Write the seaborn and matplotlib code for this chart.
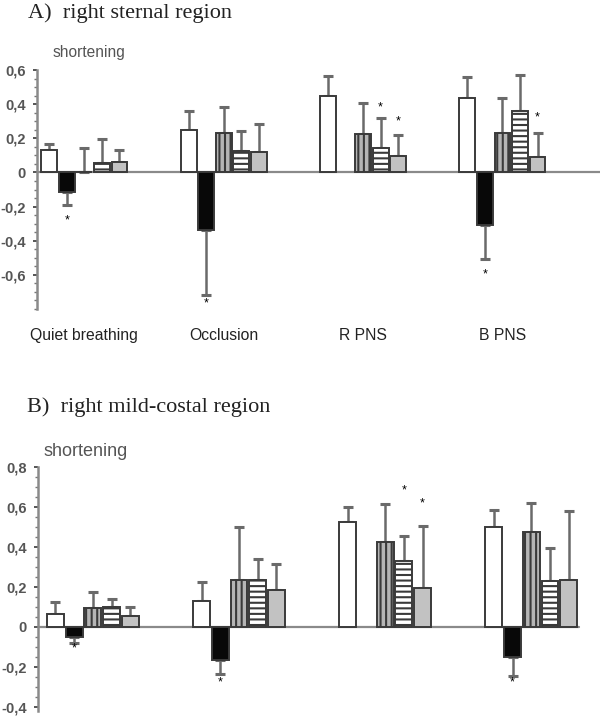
import numpy as np
import pandas as pd
import matplotlib
matplotlib.use("Agg")
import matplotlib.pyplot as plt
import seaborn as sns
from matplotlib.container import BarContainer
from matplotlib.ticker import FixedLocator, MultipleLocator, FuncFormatter

# ---------------- data ----------------
conditions = ["Quiet breathing", "Occlusion", "R PNS", "B PNS"]
series_names = ["white", "black", "vertical", "horizontal", "grey"]

# Panel A: right sternal region (mean shortening, SD)
a_white = [0.13, 0.248, 0.447, 0.434]
a_white_sd = [0.037, 0.11, 0.117, 0.126]
a_black = [-0.117, -0.34, np.nan, -0.307]
a_black_sd = [0.073, 0.38, np.nan, 0.203]
a_vertical = [0.005, 0.232, 0.224, 0.23]
a_vertical_sd = [0.14, 0.152, 0.184, 0.204]
a_horizontal = [0.055, 0.125, 0.146, 0.36]
a_horizontal_sd = [0.14, 0.117, 0.171, 0.21]
a_grey = [0.06, 0.121, 0.097, 0.092]
a_grey_sd = [0.07, 0.164, 0.121, 0.138]

# Panel B: right mild-costal region
b_white = [0.063, 0.13, 0.522, 0.497]
b_white_sd = [0.062, 0.092, 0.076, 0.086]
b_black = [-0.05, -0.167, np.nan, -0.15]
b_black_sd = [0.033, 0.07, np.nan, 0.097]
b_vertical = [0.092, 0.233, 0.425, 0.475]
b_vertical_sd = [0.08, 0.264, 0.187, 0.142]
b_horizontal = [0.10, 0.233, 0.33, 0.23]
b_horizontal_sd = [0.04, 0.105, 0.123, 0.162]
b_grey = [0.053, 0.183, 0.192, 0.233]
b_grey_sd = [0.047, 0.13, 0.313, 0.345]

# significance stars: (condition, series, y)
a_stars = [("Quiet breathing", "black", -0.28), ("Occlusion", "black", -0.77),
           ("R PNS", "horizontal", 0.38), ("R PNS", "grey", 0.30),
           ("B PNS", "black", -0.60), ("B PNS", "grey", 0.32)]
b_stars = [("Quiet breathing", "black", -0.11), ("Occlusion", "black", -0.28),
           ("R PNS", "horizontal", 0.683), ("R PNS", "grey", 0.617),
           ("B PNS", "black", -0.28)]

a_yticks = [-0.6, -0.4, -0.2, 0, 0.2, 0.4, 0.6]
b_yticks = [-0.4, -0.2, 0, 0.2, 0.4, 0.6, 0.8]


def build(vals, sds):
    rows = []
    for s, v, e in zip(series_names, vals, sds):
        for c, vv, ee in zip(conditions, v, e):
            rows.append({"condition": c, "series": s, "value": vv, "sd": ee})
    return pd.DataFrame(rows)


dfA = build([a_white, a_black, a_vertical, a_horizontal, a_grey],
            [a_white_sd, a_black_sd, a_vertical_sd, a_horizontal_sd, a_grey_sd])
dfB = build([b_white, b_black, b_vertical, b_horizontal, b_grey],
            [b_white_sd, b_black_sd, b_vertical_sd, b_horizontal_sd, b_grey_sd])

# ---------------- style ----------------
sns.set_style("white")
plt.rcParams["font.family"] = ["Liberation Sans", "DejaVu Sans"]
plt.rcParams["hatch.linewidth"] = 1.5

EDGE = "#3a3a3a"
face = {"white": "white", "black": "#080808", "vertical": "#b5b5b5",
        "horizontal": "white", "grey": "#c2c2c2"}
hatch = {"white": None, "black": None, "vertical": "|||",
         "horizontal": "---", "grey": None}
AXC = "#8a8a8a"

fig = plt.figure(figsize=(6.0, 7.28), dpi=100)
axA = fig.add_axes([37 / 600, 1 - 309 / 728, 563 / 600, 239 / 728])
axB = fig.add_axes([38 / 600, 1 - 710.7 / 728, 562 / 600, 244 / 728])


def draw(ax, df, ylim, xlim, yticks, stars, xlabels, hline_xmax, width):
    sns.barplot(data=df, x="condition", y="value", hue="series",
                order=conditions, hue_order=series_names,
                palette=face, width=width, gap=0.1, errorbar=None,
                legend=False, edgecolor=EDGE, linewidth=1.4, ax=ax, zorder=3)
    lookup = {(r.condition, r.series): (r.value, r.sd) for r in df.itertuples()}
    bar_conts = [c for c in ax.containers if isinstance(c, BarContainer)]
    centers = {}
    for hi, cont in enumerate(bar_conts):
        s = series_names[hi]
        for bar in cont:
            h = bar.get_height()
            if not np.isfinite(h):
                continue
            xc = bar.get_x() + bar.get_width() / 2
            c = conditions[int(round(xc))]
            bar.set_facecolor(face[s])
            bar.set_edgecolor(EDGE)
            if hatch[s]:
                bar.set_hatch(hatch[s])
            centers[(c, s)] = xc
            v, e = lookup[(c, s)]
            yerr = [[0], [e]] if v >= 0 else [[e], [0]]
            ax.errorbar([xc], [v], yerr=yerr, fmt="none", ecolor="#6a6a6a",
                        elinewidth=1.8, capsize=3.5, capthick=2.2, zorder=2)
    for c, s, y in stars:
        ax.text(centers[(c, s)], y, "*", ha="center", va="center",
                fontsize=9, color="black", zorder=5)
    ax.axhline(0, xmin=0, xmax=hline_xmax, color=AXC, lw=1.6, zorder=1)
    ax.set_ylim(*ylim)
    ax.set_xlim(*xlim)
    for sp in ["top", "right", "bottom"]:
        ax.spines[sp].set_visible(False)
    ax.spines["left"].set_color(AXC)
    ax.spines["left"].set_linewidth(1.8)
    ax.yaxis.set_major_locator(FixedLocator(yticks))
    ax.yaxis.set_minor_locator(MultipleLocator(0.05))
    ax.yaxis.set_major_formatter(FuncFormatter(
        lambda v, p: "0" if abs(v) < 1e-9 else f"{v:.1f}".replace(".", ",")))
    ax.tick_params(axis="y", which="major", left=True, length=3, width=1.4, color="#555",
                   labelsize=10.5, labelcolor="#555", pad=5, direction="out")
    ax.tick_params(axis="y", which="minor", left=True, length=2, width=1.0, color="#777",
                   direction="out")
    for t in ax.get_yticklabels():
        t.set_fontweight("bold")
    ax.set_xlabel("")
    ax.set_ylabel("")
    if xlabels:
        ax.tick_params(axis="x", length=0, labelsize=11.3, labelcolor="#222", pad=14)
    else:
        ax.set_xticklabels([])
        ax.tick_params(axis="x", length=0)
    ax.set_facecolor("none")


draw(axA, dfA, (-0.8, 0.6), (-0.34, 3.70), a_yticks, a_stars, True, 1.0, 0.63)
draw(axB, dfB, (-0.42, 0.8), (-0.375, 3.47), b_yticks, b_stars, False, 0.963, 0.64)

fig.text(28 / 600, 1 - 13 / 728, "A)  right sternal region", family="Liberation Serif",
         fontsize=16, va="center", ha="left", color="#222")
fig.text(27 / 600, 1 - 407 / 728, "B)  right mild-costal region", family="Liberation Serif",
         fontsize=16, va="center", ha="left", color="#222")
fig.text(53 / 600, 1 - 52 / 728, "shortening", fontsize=11.2, color="#555",
         va="center", ha="left")
fig.text(43 / 600, 1 - 452 / 728, "shortening", fontsize=13, color="#555",
         va="center", ha="left")

fig.savefig("out.png", dpi=100)
